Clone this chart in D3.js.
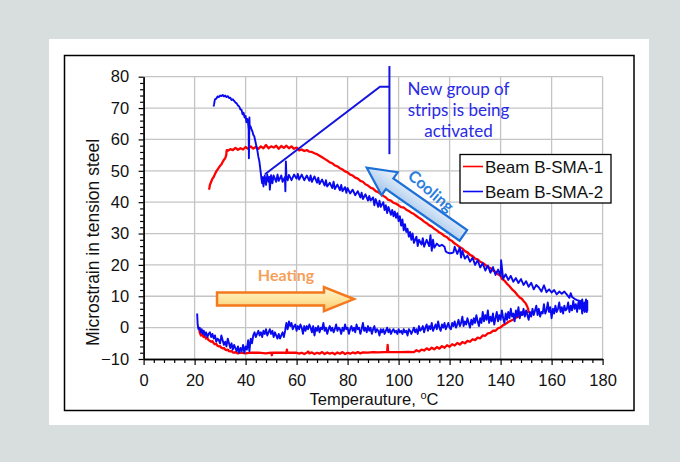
<!DOCTYPE html>
<html>
<head>
<meta charset="utf-8">
<script src="https://cdn.jsdelivr.net/npm/d3@7/dist/d3.min.js"></script>
<style>
  html, body { margin: 0; padding: 0; background: #d8dedd; }
  svg { display: block; }
</style>
</head>
<body>
<svg id="chart" width="680" height="462"></svg>
<script>
// ---- Axis ticks ----
const xTicks = [0, 20, 40, 60, 80, 100, 120, 140, 160, 180];
const yTicks = [-10, 0, 10, 20, 30, 40, 50, 60, 70, 80];
const xMinorTicks = d3.range(0, 181, 4);
const yMinorTicks = d3.range(-10, 81, 2);

const seriesNames = ["Beam B-SMA-1", "Beam B-SMA-2"];
const seriesColors = ["#ff0000", "#0a0af0"];

// ---- Beam B-SMA-1: [temperature °C, microstrain] ----
const redHeating = [
  [21.8,0],[22,-1.5],[22.5,-2.5],[23,-2],[23.5,-3],[24,-2.8],[24.5,-3.5],[25,-3.2],[25.5,-4],[26,-4.2],
  [26.5,-4.5],[27,-4.3],[27.5,-5],[28,-5.3],[28.5,-5.2],[29,-5.8],[29.5,-6],[30,-5.9],[30.5,-6.4],[31,-6.6],
  [31.5,-6.5],[32,-7],[32.5,-7.2],[33,-7],[33.5,-7.5],[34,-7.6],[34.5,-7.4],[35,-7.9],[35.5,-8],[36,-7.8],
  [37,-8.2],[38,-8],[40,-8.2],[42,-8],[45,-8],[48,-8.2],[50,-8],[50.3,-8.8],[50.6,-8],[55,-8],
  [56,-8.1],[56.2,-7],[56.4,-8],[60,-8],[61,-8.3],[62,-8],[63,-8.4],[64,-8],[64.5,-7.6],[65,-8.2],
  [66,-7.9],[67,-8.4],[68,-8],[69,-8.3],[70,-7.8],[71,-8.4],[72,-7.9],[73,-8.3],[74,-8],[75,-8.5],
  [76,-7.9],[77,-8.3],[78,-7.8],[79,-8.4],[80,-8],[81,-8.3],[82,-7.9],[83,-8.2],[84,-7.8],[85,-8.2],
  [86,-7.9],[88,-8],[90,-7.8],[92,-7.9],[94,-7.8],[95.5,-7.8],[95.7,-5.5],[95.9,-7.8],[100,-7.8],[104,-7.7],
  [106,-7.8],[107,-7.2],[108,-7.6],[109,-7],[110,-7.3],[111,-6.6],[112,-7.1],[113,-6.4],[114,-6.9],[115,-6.2],
  [116,-6.7],[117,-5.9],[118,-6.4],[119,-5.6],[120,-6.1],[121,-5.3],[122,-5.7],[123,-4.9],[124,-5.4],[125,-4.6],
  [126,-5],[127,-4.2],[128,-4.5],[129,-3.7],[130,-4],[131,-3.2],[132,-3.4],[133,-2.5],[134,-2.6],[135,-1.8],
  [136,-1.7],[137,-1],[138,-1],[139,-0.2],[140,0.1],[141,0.8],[142,1.2],[143,1.8],[144,2.2],[145,2.6],
  [146,3.2],[147,3.5],[148,4.1],[149,4.4],[150,4.9],[151,5]
];
const redCooling = [
  [151,5],[150.8,6],[150.3,7],[149.8,7.8],[149,8.5],[148.3,9.2],[147.5,9.6],[146.5,10.5],[145.5,11.5],[144.5,12.2],
  [143.5,13.2],[142.5,14],[141.5,15],[140.5,15.6],[140,16.5],[139,17],[138,17.8],[137,18.2],[136,19],[135,19.3],
  [134,20],[133,20.6],[132,21],[131,21.8],[130,22],[129,22.8],[128,23.2],[127,24],[126,24.4],[125,25.2],
  [124,25.6],[123,26.3],[122,26.8],[121,27.6],[120,28],[119,28.8],[118,29.2],[117,29.9],[116,30.3],[115,31],
  [114,31.5],[113,32.2],[112,32.6],[111,33.3],[110,33.8],[109,34.5],[108,35],[107,35.6],[106,36.2],[105,36.6],
  [104,37.2],[103,37.6],[102,38.3],[101,38.4],[100,39],[99,39.5],[98,39.8],[97,40.5],[96,40.7],[95,41.5],
  [94,42],[93,42.6],[92,43.2],[91,43.5],[90,44.3],[89,44.6],[88,45.3],[87,45.7],[86,46.5],[85,46.8],
  [84,47.5],[83,47.8],[82,48.5],[81,48.8],[80,49.5],[79,49.8],[78,50.4],[77,50.8],[76,51.4],[75,51.7],
  [74,52.4],[73,52.7],[72,53.3],[71,53.8],[70,54.3],[69,54.8],[68,55.3],[67,55.6],[66,56],[65,56.1],
  [64,56.6],[63,56.3],[62,56.8],[61,56.5],[60,57.4],[59,57],[58,57.8],[57,57.2],[56,58],[55,57.3],
  [54,57.9],[53,57],[52,58],[51,57.4],[50,57.8],[49,57.2],[48,58.2],[47,57.2],[46,57.8],[45,57],
  [44,57.6],[43,57.1],[42,57.8],[41,57],[40,57.6],[39,56.8],[38,57.2],[37,56.7],[36,57.3],[35,56.6],
  [34,56.9],[33,56.4],[32.6,56.6],[32.4,55],[32,54],[31.5,53.5],[31,52.8],[30.5,52],[30,51.6],[29.5,51],
  [29,50.4],[28.5,49.8],[28,49],[27.5,48],[27,47.5],[26.5,46.5],[26,45.5],[25.8,44.5],[25.6,44]
];

// ---- Beam B-SMA-2: [temperature °C, microstrain] ----
const blueHeating = [
  [21,4.5],[21.2,1],[21.5,-0.5],[22,0],[22.4,-1.5],[22.8,-0.5],[23.2,-2],[23.6,-1],[24,-2.5],[24.5,-1.5],
  [25,-3],[25.5,-2],[26,-1.5],[26.5,-3],[27,-2],[27.5,-3.5],[28,-2.5],[28.5,-4.5],[29,-3.5],[29.5,-4],
  [30,-5],[30.5,-2.5],[31,-4],[31.5,-5.5],[32,-4.5],[32.5,-6],[33,-3.5],[33.5,-5],[34,-6.5],[34.5,-5],
  [35,-7],[35.5,-5.5],[36,-6.5],[36.5,-7.5],[37,-6],[37.5,-8],[38,-6.5],[38.5,-7.5],[39,-5.5],[39.5,-8],
  [40,-6],[40.5,-7],[41,-4],[41.5,-7.5],[42,-3.5],[42.5,-5],[43,-2.5],[43.5,-1.5],[44,-3],[44.5,-2],
  [45,-1],[45.5,-2.5],[46,-1.5],[46.5,-3],[47,-1],[47.5,-2],[48,-0.5],[48.5,-2.5],[49,-1.5],[49.5,-0.5],
  [50,-2],[50.5,-1],[51,-3],[51.5,-1.5],[52,-2.5],[52.5,-3.5],[53,-2],[53.5,-3.5],[54,-2.5],[54.5,-1.5],
  [55,-3],[55.5,-1],[56,1.5],[56.5,-0.5],[57,2],[57.5,0.5],[58,1.5],[58.5,-0.5],[59,0.5],[59.5,1],
  [60,-1],[60.5,0.5],[61,-0.5],[61.5,1],[62,0],[62.5,-2],[63,0.5],[63.5,-1],[64,0.5],[64.5,-0.5],
  [65,1],[65.5,0],[66,-1.5],[66.5,0.5],[67,-2.5],[67.5,0],[68,-1],[68.5,0.5],[69,-1.5],[69.5,0],
  [70,-0.5],[70.5,1.5],[71,-1],[71.5,0],[72,-2],[72.5,-0.5],[73,0.5],[73.5,-1],[74,0],[74.5,-1.5],
  [75,-0.5],[75.5,1],[76,-1],[76.5,0],[77,-0.5],[77.5,-2],[78,0],[78.5,-1],[79,1],[79.5,-0.5],
  [80,0],[80.5,-2],[81,-0.5],[81.5,0.5],[82,-1],[82.5,0],[83,-1.5],[83.5,1],[84,-0.5],[84.5,0],
  [85,-2],[85.5,-0.5],[86,1.5],[86.5,-1],[87,0],[87.5,-1.5],[88,0.5],[88.5,-1],[89,0],[89.5,-2],
  [90,-0.5],[90.5,0.5],[91,-1.5],[91.5,-0.5],[92,-1],[92.5,-2.5],[93,-0.5],[93.5,-1.5],[94,-0.5],[94.5,-2],
  [95,-1],[95.5,0],[96,-1.5],[96.5,-0.5],[97,-2],[97.5,-1],[98,-0.5],[98.5,-1.5],[99,-1],[99.5,-2],
  [100,-0.5],[100.5,-1.5],[101,-1],[101.5,-2],[102,-0.5],[102.5,-1.5],[103,-1],[103.5,-2.5],[104,-0.5],[104.5,-1],
  [105,-2],[105.5,-1],[106,0],[106.5,-1.5],[107,-0.5],[107.5,-2],[108,0.5],[108.5,-1],[109,-0.5],[109.5,0.5],
  [110,-1.5],[110.5,0],[111,1],[111.5,-1],[112,0.5],[112.5,-0.5],[113,1.5],[113.5,-1],[114,0],[114.5,1],
  [115,-0.5],[115.5,2],[116,0],[116.5,-1],[117,1],[117.5,0],[118,1.5],[118.5,-0.5],[119,0.5],[119.5,1.5],
  [120,0],[120.5,-0.5],[121,1.5],[121.5,0.5],[122,2],[122.5,0],[123,1],[123.5,2.5],[124,0.5],[124.5,1.5],
  [125,3.5],[125.5,0.5],[126,2],[126.5,1],[127,3],[127.5,1.5],[128,0],[128.5,2.5],[129,1],[129.5,3],
  [130,1.5],[130.5,4],[131,2],[131.5,0.5],[132,3],[132.5,1.5],[133,5],[133.5,2],[134,4],[134.5,2.5],
  [135,5.5],[135.5,1.5],[136,3.5],[136.5,2],[137,4.5],[137.5,1],[138,3],[138.5,5],[139,2],[139.5,4],
  [140,2.5],[140.5,5.5],[141,3],[141.5,1.5],[142,4.5],[142.5,2.5],[143,5],[143.5,3],[144,6],[144.5,3.5],
  [145,4.5],[145.5,2],[146,5.5],[146.5,3.5],[147,6.5],[147.5,3],[148,5],[148.5,4],[149,6],[149.5,3.5],
  [150,5.5],[150.5,4],[151,2.5],[151.5,5],[152,3.5],[152.5,6],[153,4],[153.5,5.5],[154,7],[154.5,4],
  [155,6],[155.5,3.5],[156,5],[156.5,4.5],[157,7.5],[157.5,4.5],[158,5.5],[158.5,8],[159,5],[159.5,6.5],
  [160,3],[160.5,6],[161,4.5],[161.5,7],[162,5],[162.5,6],[163,8],[163.5,5],[164,6.5],[164.5,4.5],
  [165,7],[165.5,5.5],[166,6],[166.5,8],[167,5],[167.5,7],[168,5.5],[168.5,8.5],[169,6],[169.5,7.5],
  [170,5],[170.5,8],[171,6],[171.5,8.5],[172,4.5],[172.5,7.5],[173,5],[173.5,9],[174,5.5]
];
const blueCooling = [
  [174,8.5],[173.8,5],[173.5,9],[173.2,5.5],[173,8],[172.5,6.5],[172,9],[171.5,7.5],[171,8.5],[170,8.8],
  [169,9.2],[168,9.8],[167.5,11],[167,9.5],[166,10.5],[165,11.5],[164,10.8],[163,11.5],[162,10.6],[161,12],
  [160,11.2],[159,12.2],[158,11.3],[157,13.5],[156,11.5],[155,12.8],[154,13.6],[153,12.2],[152,14.3],[151,13],
  [150,14.8],[149,13.6],[148,15.5],[147,14.2],[146,15.8],[145,14.6],[144,16.5],[143,15.2],[142,17],[141,15.6],
  [140.2,21.5],[140,16.5],[139,18.5],[138,16.8],[137,19.3],[136,17.5],[135,19.8],[134,18.2],[133,20.5],[132,19.2],
  [131,21.5],[130,20],[129,22.3],[128,21],[127,23],[126,22],[125,24.5],[124.5,22.3],[124,25.5],[123,23.5],
  [122,25.8],[121.5,24],[121,23.8],[120,23.7],[119,24],[118.5,24.3],[118,25.8],[117,26.4],[116,26],[115,26.8],
  [114,25.5],[113.5,28],[113,24.5],[112.5,29.5],[112,26],[111,28],[110,25.8],[109.5,28.5],[109,26.5],[108,28],
  [107.5,26],[107,29],[106,27],[105.5,30],[105,28],[104.5,30.5],[104,29],[103.5,31.5],[103,30.5],[102.5,33],
  [102,31],[101.5,34.5],[101,32.5],[100.5,35.5],[100,34],[99.5,36.5],[99,35],[98.5,37],[98,35.5],[97.5,37.5],
  [97,36],[96,38.5],[95.5,36.5],[95,39],[94.5,37.5],[94,40],[93,38.5],[92.5,40.5],[92,38.5],[91,41],
  [90.5,39],[90,41.5],[89,40.5],[88.5,42],[88,40.5],[87,42.5],[86,41],[85.5,43],[85,41.5],[84,43.5],
  [83,42.2],[82,44],[81,42.8],[80,44.5],[79.5,43],[79,44.8],[78,43.5],[77.5,45.5],[77,43.8],[76,45.6],
  [75,44.2],[74.5,46.5],[74,44.5],[73,46.2],[72,45],[71.5,47],[71,45.3],[70,47.2],[69,45.8],[68.5,47.8],
  [68,46.2],[67,48.2],[66,46.5],[65.5,48.5],[65,46.8],[64,48.5],[63,47],[62,48.8],[61,47.2],[60.5,49],
  [60,47.5],[59,48.8],[58,47],[57,48.7],[56.5,47],[56,48.5],[55.8,53],[55.6,43.5],[55.4,48],[54.5,46.5],
  [54,48.5],[53,46.8],[52.5,48.8],[52,46.5],[51,48.5],[50.5,46],[50,48.6],[49.5,44],[49.3,48],[49,46.5],
  [48.5,48.8],[48,45.5],[47.5,48.5],[47,45],[46.7,48],[46.5,46],[46.2,47.5],[46,49],[45.7,51],[45.4,53],
  [45,54.5],[44.6,56.5],[44.2,58],[43.8,59.5],[43.4,61],[43,61.5],[42.7,62.5],[42.4,63],[42,64],[41.6,64.5],
  [41.5,67],[41.4,60],[41.3,54],[41.2,63],[41,65],[40.7,66.5],[40.3,65.5],[40,67.5],[39.6,67],[39.2,68.5],
  [38.8,68],[38.4,69.5],[38,69.5],[37.5,70.5],[37,70.8],[36.5,71.5],[36,71.8],[35.5,72.3],[35,72.8],[34.5,72.6],
  [34,73.3],[33.5,73.2],[33,73.8],[32.5,73.5],[32,74],[31.5,73.7],[31,74.2],[30.5,73.8],[30,74],[29.5,73.5],
  [29,73.7],[28.5,73],[28,72.8],[27.8,72],[27.6,71],[27.4,70.5]
];

// ---- Annotations (data units) ----
const calloutPath = [[47.6, 48.9], [92.7, 76.8], [96.4, 76.8]];
const calloutBar = [[96.4, 83.4], [96.4, 55.3]];
const calloutLines = ["New group of", "strips is being", "activated"];
const heatingArrow = { tail: [28.8, 9.1], tip: [82.5, 9.1] };
const coolingArrow = { tail: [125.4, 29.4], tip: [87.5, 51.0] };

// ---- Layout ----
const svg = d3.select("#chart");
const W = 680, H = 462;
const plot = { left: 143.6, right: 602.6, top: 76.7, bottom: 359 };
const x = d3.scaleLinear().domain([0, 180]).range([plot.left, plot.right]);
const y = d3.scaleLinear().domain([-10, 80]).range([plot.bottom, plot.top]);
const axisFont = "'Liberation Sans', Arial, sans-serif";
const noteFont = "Lato, 'Open Sans', sans-serif";

svg.append("rect").attr("width", W).attr("height", H).attr("fill", "#d8dedd");
svg.append("rect").attr("x", 49).attr("y", 39).attr("width", 600).attr("height", 386).attr("fill", "#ffffff");
svg.append("rect").attr("x", 64.5).attr("y", 55.5).attr("width", 569.5).attr("height", 355)
  .attr("fill", "#ffffff").attr("stroke", "#000").attr("stroke-width", 1.5);

const defs = svg.append("defs");
const gh = defs.append("linearGradient").attr("id", "heatFill").attr("x1", 0).attr("y1", 0).attr("x2", 0).attr("y2", 1);
gh.append("stop").attr("offset", "0%").attr("stop-color", "#fff6d2");
gh.append("stop").attr("offset", "55%").attr("stop-color", "#fde39a");
gh.append("stop").attr("offset", "100%").attr("stop-color", "#f8c56a");
const gc = defs.append("linearGradient").attr("id", "coolFill").attr("x1", 0).attr("y1", 0).attr("x2", 0).attr("y2", 1);
gc.append("stop").attr("offset", "0%").attr("stop-color", "#9fc2ea");
gc.append("stop").attr("offset", "100%").attr("stop-color", "#f2f7fd");

// Gridlines
const grid = svg.append("g").attr("stroke", "#c4c4c4").attr("stroke-width", 1.3);
grid.selectAll("line.v").data(xTicks.filter(d => d > 0)).join("line")
  .attr("x1", d => x(d)).attr("x2", d => x(d)).attr("y1", y(-10)).attr("y2", y(80));
grid.selectAll("line.h").data(yTicks.filter(d => d > -10)).join("line")
  .attr("y1", d => y(d)).attr("y2", d => y(d)).attr("x1", x(0)).attr("x2", x(180));

// Axes
function styleAxis(g) {
  g.select(".domain").attr("stroke", "#000").attr("stroke-width", 1.3);
  g.selectAll(".tick line").attr("stroke", "#000").attr("stroke-width", 1.2);
  g.selectAll("text").attr("fill", "#111").attr("font-family", axisFont).attr("font-size", 16.5);
}
const yMinor = svg.append("g").attr("transform", `translate(${plot.left},0)`)
  .call(d3.axisLeft(y).tickValues(yMinorTicks.filter(d => d % 10 !== 0)).tickSize(3.5).tickSizeOuter(0).tickFormat(""));
styleAxis(yMinor);
const yAxis = svg.append("g").attr("transform", `translate(${plot.left},0)`)
  .call(d3.axisLeft(y).tickValues(yTicks).tickSize(5).tickSizeOuter(0).tickPadding(9.5).tickFormat(d3.format("d")));
styleAxis(yAxis);
const xMinor = svg.append("g").attr("transform", `translate(0,${plot.bottom})`)
  .call(d3.axisBottom(x).tickValues(xMinorTicks.filter(d => d % 20 !== 0)).tickSize(4).tickSizeOuter(0).tickFormat(""));
styleAxis(xMinor);
const xAxis = svg.append("g").attr("transform", `translate(0,${plot.bottom})`)
  .call(d3.axisBottom(x).tickValues(xTicks).tickSize(6).tickSizeOuter(0).tickPadding(9.5).tickFormat(d3.format("d")));
styleAxis(xAxis);

// Axis titles
svg.append("text").attr("transform", "translate(98.5,242.5) rotate(-90)")
  .attr("text-anchor", "middle").attr("font-family", axisFont).attr("font-size", 17.5).attr("fill", "#111")
  .text("Microstrain in tension steel");
const xt = svg.append("text").attr("x", 374).attr("y", 405).attr("text-anchor", "middle")
  .attr("font-family", axisFont).attr("font-size", 16.5).attr("fill", "#111");
xt.append("tspan").text("Temperauture, ");
xt.append("tspan").attr("font-size", 11).attr("dy", -6).text("o");
xt.append("tspan").attr("dy", 6).text("C");

// Series
const line = d3.line().x(d => x(d[0])).y(d => y(d[1]));
const series = [redHeating.concat(redCooling), blueHeating.concat(blueCooling)];
svg.append("g").selectAll("path").data(series).join("path")
  .attr("d", line).attr("fill", "none")
  .attr("stroke", (d, i) => seriesColors[i])
  .attr("stroke-width", (d, i) => i === 0 ? 2.3 : 1.9)
  .attr("stroke-linejoin", "round");

// Callout
const noteColor = "#1414e0";
svg.append("path").attr("d", d3.line().x(d => x(d[0])).y(d => y(d[1]))(calloutPath))
  .attr("fill", "none").attr("stroke", noteColor).attr("stroke-width", 2);
svg.append("line").attr("x1", x(calloutBar[0][0])).attr("x2", x(calloutBar[1][0]))
  .attr("y1", y(calloutBar[0][1])).attr("y2", y(calloutBar[1][1]))
  .attr("stroke", noteColor).attr("stroke-width", 2);
svg.append("g").selectAll("text").data(calloutLines).join("text")
  .attr("x", 458.5).attr("y", (d, i) => 95 + i * 21).attr("text-anchor", "middle")
  .attr("font-family", noteFont).attr("font-size", 17).attr("fill", "#2a2ae6").text(d => d);

// Block arrows
function blockArrow(spec, shaftHalf, headHalf, headLen, fill, stroke, sw) {
  const t0 = [x(spec.tail[0]), y(spec.tail[1])];
  const t1 = [x(spec.tip[0]), y(spec.tip[1])];
  const L = Math.hypot(t1[0] - t0[0], t1[1] - t0[1]);
  const ang = Math.atan2(t1[1] - t0[1], t1[0] - t0[0]) * 180 / Math.PI;
  const p = d3.path();
  p.moveTo(0, -shaftHalf); p.lineTo(L - headLen, -shaftHalf); p.lineTo(L - headLen, -headHalf);
  p.lineTo(L, 0); p.lineTo(L - headLen, headHalf); p.lineTo(L - headLen, shaftHalf);
  p.lineTo(0, shaftHalf); p.closePath();
  svg.append("path").attr("d", p.toString())
    .attr("transform", `translate(${t0[0]},${t0[1]}) rotate(${ang})`)
    .attr("fill", fill).attr("stroke", stroke).attr("stroke-width", sw).attr("stroke-linejoin", "miter");
}
blockArrow(heatingArrow, 6.5, 12, 30, "url(#heatFill)", "#f4781e", 2.5);
blockArrow(coolingArrow, 6.5, 14, 28, "url(#coolFill)", "#1c70d8", 2.2);

svg.append("text").attr("x", 286).attr("y", 281).attr("text-anchor", "middle")
  .attr("font-family", noteFont).attr("font-weight", "bold").attr("font-size", 16)
  .attr("fill", "#f6a05a").text("Heating");
svg.append("text").attr("transform", "translate(431,191) rotate(41)")
  .attr("text-anchor", "middle").attr("dy", "0.35em")
  .attr("font-family", noteFont).attr("font-weight", "bold").attr("font-size", 16)
  .attr("fill", "#2a7de0").text("Cooling");

// Legend
const legend = svg.append("g");
legend.append("rect").attr("x", 460).attr("y", 154.5).attr("width", 151).attr("height", 48.5)
  .attr("fill", "#fff").attr("stroke", "#000").attr("stroke-width", 1.3);
seriesNames.forEach((name, i) => {
  const cy = 166.5 + i * 25;
  legend.append("line").attr("x1", 463).attr("x2", 483).attr("y1", cy).attr("y2", cy)
    .attr("stroke", seriesColors[i]).attr("stroke-width", 1.6);
  legend.append("text").attr("x", 485).attr("y", cy + 6).attr("font-family", axisFont)
    .attr("font-size", 17).attr("fill", "#111").text(name);
});
</script>
</body>
</html>
